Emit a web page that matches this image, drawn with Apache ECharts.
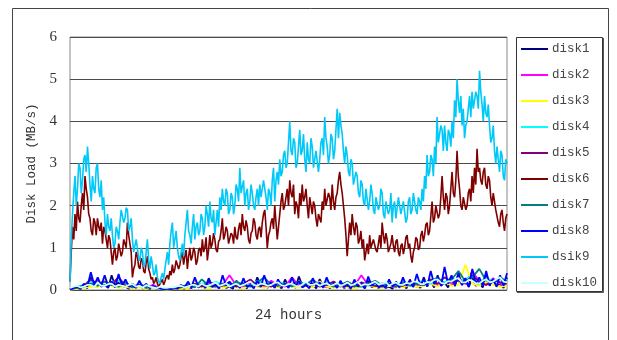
<!DOCTYPE html>
<html>
<head>
<meta charset="utf-8">
<script src="https://cdn.jsdelivr.net/npm/echarts@6/dist/echarts.min.js"></script>
<style>
  html, body { margin: 0; padding: 0; background: #fff; }
  #chart { width: 617px; height: 340px; }
</style>
</head>
<body>
<div id="chart"></div>
<script>
// Disk load over a 24-hour window, ten disks (MB/s).
const yTicks = [0, 1, 2, 3, 4, 5, 6];
const seriesNames = ['disk1', 'disk2', 'disk3', 'disk4', 'disk5', 'disk6', 'disk7', 'disk8', 'dsik9', 'disk10'];
const seriesColors = ['#000080', '#FF00FF', '#FFFF00', '#00FFFF', '#800080', '#800000', '#008080', '#0000FF', '#00C8F8', '#CCFFFF'];

const disk1 = [0.02,0.03,0.05,0.02,0.1,0.04,0.3,0.1,0.22,0.08,0.12,0.05,0.35,0.1,0.18,0.06,0.08,0.03,0.15,0.05,0.1,0.04,0.05,0.02,0.12,0.04,0.06,0.02,0.03,0.02,0.02,0.03,0.05,0.02,0.1,0.04,0.2,0.06,0.12,0.04,0.28,0.08,0.1,0.04,0.15,0.05,0.08,0.03,0.22,0.07,0.12,0.04,0.18,0.06,0.3,0.09,0.14,0.05,0.2,0.06,0.1,0.04,0.25,0.08,0.15,0.05,0.32,0.1,0.18,0.06,0.12,0.04,0.26,0.08,0.1,0.04,0.2,0.06,0.15,0.05,0.08,0.03,0.18,0.06,0.12,0.04,0.22,0.07,0.1,0.04,0.16,0.05,0.08,0.03,0.2,0.06,0.12,0.04,0.25,0.08,0.15,0.05,0.3,0.09,0.2,0.06,0.35,0.1,0.18,0.06,0.28,0.09,0.4,0.12,0.22,0.07,0.3,0.1,0.18,0.06,0.35,0.1,0.25,0.08,0.15,0.05,0.3];
const disk2 = [0.02,0.04,0.08,0.12,0.2,0.1,0.15,0.3,0.08,0.05,0.1,0.06,0.12,0.04,0.02,0.03,0.06,0.04,0.1,0.08,0.15,0.06,0.12,0.35,0.1,0.08,0.18,0.1,0.06,0.22,0.12,0.08,0.3,0.1,0.14,0.08,0.2,0.06,0.12,0.08,0.18,0.1,0.35,0.12,0.08,0.15,0.1,0.06,0.2,0.12,0.08,0.14,0.25,0.1,0.18,0.12,0.3,0.15,0.45,0.2,0.12,0.28,0.15,0.1];
const disk3 = [0.01,0.03,0.05,0.08,0.06,0.28,0.1,0.05,0.08,0.04,0.06,0.03,0.05,0.02,0.01,0.02,0.04,0.03,0.2,0.06,0.04,0.08,0.05,0.1,0.06,0.04,0.12,0.08,0.05,0.1,0.06,0.15,0.08,0.05,0.1,0.06,0.2,0.08,0.05,0.1,0.06,0.04,0.08,0.12,0.06,0.05,0.1,0.08,0.06,0.12,0.08,0.1,0.15,0.08,0.2,0.1,0.12,0.6,0.15,0.1,0.2,0.12,0.08,0.1];
const disk4 = [0.03,0.08,0.12,0.2,0.15,0.1,0.18,0.22,0.12,0.08,0.14,0.1,0.06,0.04,0.03,0.05,0.08,0.12,0.1,0.16,0.12,0.2,0.1,0.15,0.12,0.18,0.1,0.22,0.15,0.12,0.2,0.14,0.1,0.18,0.12,0.16,0.1,0.2,0.14,0.1,0.15,0.12,0.18,0.1,0.14,0.12,0.16,0.1,0.2,0.14,0.18,0.22,0.15,0.25,0.18,0.3,0.2,0.25,0.35,0.2,0.28,0.22,0.18,0.25];
const disk5 = [0.02,0.06,0.1,0.25,0.15,0.2,0.12,0.3,0.1,0.08,0.12,0.06,0.08,0.04,0.02,0.03,0.06,0.1,0.14,0.08,0.2,0.12,0.1,0.18,0.08,0.15,0.25,0.1,0.12,0.08,0.18,0.1,0.14,0.2,0.1,0.16,0.08,0.12,0.2,0.1,0.14,0.08,0.18,0.12,0.1,0.08,0.15,0.12,0.1,0.2,0.14,0.12,0.25,0.15,0.3,0.18,0.22,0.15,0.35,0.2,0.12,0.25,0.18,0.15];
const disk6 = [0.2,0.9,1.5,1.2,1.8,1.4,2.1,1.7,1.6,2.0,2.3,1.9,2.7,2.4,2.2,1.8,1.7,1.4,1.3,1.7,1.6,1.3,1.7,1.5,1.4,1.6,1.1,1.5,1.4,1.2,1.0,1.3,1.2,0.9,0.6,0.9,1.0,0.7,0.8,1.1,1.1,0.8,0.9,1.2,1.2,1.0,1.6,1.3,1.3,0.9,0.3,0.5,0.6,0.9,0.8,0.55,0.5,0.75,0.7,0.45,0.4,0.65,0.8,0.5,0.4,0.25,0.3,0.15,0.2,0.3,0.15,0.08,0.1,0.2,0.25,0.12,0.2,0.3,0.35,0.25,0.45,0.35,0.6,0.4,0.5,0.7,0.7,0.5,0.6,0.8,0.9,0.6,0.8,0.95,0.5,0.8,1.0,0.7,0.8,1.0,0.9,0.6,0.7,0.95,1.0,0.8,1.2,0.9,1.0,1.25,0.7,0.95,1.3,1.0,1.1,1.35,1.2,0.95,0.9,1.15,1.2,1.4,1.7,1.2,1.3,1.5,1.4,1.1,1.1,1.35,1.3,1.1,1.5,1.25,1.2,1.45,1.6,1.3,1.8,1.5,1.4,1.65,1.5,1.2,1.1,1.35,1.4,1.7,1.6,1.3,1.2,1.45,1.5,1.25,1.6,1.8,1.9,1.5,1.0,1.3,1.4,1.6,1.7,1.45,2.0,1.6,1.2,1.5,1.8,2.1,2.3,1.9,2.0,2.2,2.4,2.0,2.6,2.3,2.2,2.5,1.8,2.1,2.0,1.7,2.3,2.0,2.5,2.1,2.2,2.4,2.0,1.7,2.2,2.0,1.8,2.1,2.0,1.7,1.5,1.8,1.8,1.6,2.1,1.9,2.4,2.0,2.0,2.3,2.2,1.9,2.5,2.1,1.9,2.2,2.3,2.6,2.8,2.5,2.3,2.0,1.7,1.3,0.8,1.2,1.6,1.3,1.8,1.5,1.3,1.6,1.5,1.1,1.2,1.4,1.0,1.2,0.7,0.9,1.1,0.85,1.3,1.0,1.0,1.2,1.2,0.95,0.9,1.1,1.3,1.0,1.6,1.3,1.1,1.35,1.2,0.9,0.9,1.1,1.3,1.05,0.9,1.15,1.2,0.9,0.8,1.05,1.1,0.85,1.0,1.25,1.3,1.0,1.1,0.8,0.65,0.9,1.0,1.25,1.2,0.95,1.0,1.3,1.4,1.15,1.3,1.55,1.6,1.3,1.4,1.75,2.1,1.6,1.7,2.0,2.0,1.7,1.8,2.2,2.7,2.2,1.9,2.3,2.2,1.8,2.0,2.4,2.8,2.3,2.2,2.6,3.3,2.7,2.4,2.0,1.9,2.2,2.2,1.9,2.0,2.3,2.4,2.1,2.7,2.3,2.9,2.5,3.35,2.8,2.9,2.6,2.5,2.8,2.9,2.5,2.4,2.7,2.6,2.2,2.0,2.3,2.3,1.9,1.9,1.6,1.5,1.8,1.9,1.6,1.4,1.7,1.8];
const disk7 = [0.02,0.05,0.08,0.15,0.1,0.2,0.12,0.08,0.18,0.06,0.1,0.05,0.08,0.03,0.02,0.04,0.08,0.12,0.06,0.25,0.1,0.08,0.15,0.1,0.2,0.12,0.08,0.18,0.3,0.12,0.1,0.15,0.08,0.2,0.12,0.25,0.1,0.15,0.08,0.12,0.2,0.1,0.08,0.15,0.22,0.1,0.12,0.08,0.18,0.1,0.15,0.12,0.2,0.3,0.15,0.25,0.45,0.2,0.3,0.5,0.22,0.18,0.3,0.2];
const disk8 = [0.02,0.04,0.08,0.03,0.15,0.08,0.42,0.12,0.3,0.1,0.35,0.08,0.2,0.06,0.38,0.1,0.25,0.08,0.12,0.05,0.22,0.06,0.15,0.04,0.1,0.03,0.05,0.02,0.04,0.02,0.06,0.03,0.12,0.05,0.2,0.06,0.3,0.08,0.15,0.05,0.25,0.07,0.12,0.04,0.35,0.1,0.2,0.06,0.15,0.05,0.28,0.08,0.12,0.04,0.22,0.07,0.35,0.1,0.18,0.05,0.25,0.08,0.15,0.05,0.3,0.09,0.2,0.06,0.12,0.04,0.28,0.08,0.18,0.05,0.3,0.1,0.15,0.05,0.22,0.07,0.12,0.04,0.25,0.08,0.15,0.05,0.32,0.1,0.2,0.06,0.12,0.05,0.25,0.08,0.18,0.06,0.3,0.1,0.2,0.07,0.38,0.12,0.25,0.08,0.45,0.14,0.3,0.1,0.55,0.15,0.35,0.1,0.4,0.12,0.28,0.08,0.5,0.15,0.3,0.1,0.45,0.12,0.25,0.08,0.35,0.1,0.4];
const dsik9 = [0.2,1.2,1.8,2.3,2.7,2.0,2.4,3.0,2.9,2.3,2.6,3.1,3.2,2.8,3.4,3.0,2.5,2.1,2.7,2.4,2.3,2.9,3.0,2.4,2.2,2.6,1.9,2.2,1.6,1.3,1.8,1.5,1.4,1.7,1.3,1.0,1.1,1.5,1.4,1.2,1.6,1.9,1.9,1.6,1.7,1.95,1.9,1.4,1.5,1.7,1.2,0.9,0.9,1.2,1.0,0.75,0.7,1.0,0.9,0.55,0.6,0.9,1.2,0.7,0.5,0.8,0.6,0.35,0.4,0.6,0.3,0.2,0.15,0.3,0.4,0.25,0.5,0.7,0.9,0.6,1.1,1.4,1.6,1.0,1.2,1.4,1.0,0.8,0.7,0.9,1.1,0.8,1.3,1.6,1.9,1.4,1.3,1.1,1.5,1.8,1.2,1.5,1.6,1.3,1.4,1.8,1.7,1.3,1.5,2.0,1.8,1.5,2.1,1.7,1.6,1.9,1.3,1.6,1.9,1.5,2.2,1.9,2.4,2.1,2.0,2.4,2.3,1.8,1.9,2.3,2.2,1.8,2.0,2.5,2.4,2.1,2.9,2.3,2.3,2.6,2.0,2.3,2.4,1.9,2.1,2.5,2.3,2.0,1.9,2.2,2.4,2.0,2.5,2.2,2.2,2.6,2.6,2.2,1.9,2.4,2.3,2.0,2.6,2.9,2.1,2.6,2.8,2.5,3.1,2.7,2.8,3.2,3.3,2.9,3.0,3.5,4.0,3.3,3.2,3.6,3.5,2.9,3.0,3.4,3.8,3.2,3.3,3.7,3.1,2.8,3.5,3.1,3.0,3.6,3.4,2.9,2.9,3.3,3.3,2.8,3.1,3.5,3.6,3.2,4.1,3.6,3.4,3.0,3.2,3.7,3.6,3.1,3.3,3.8,4.3,3.6,4.2,3.9,3.7,3.3,3.0,3.4,3.2,2.8,2.7,3.1,3.0,2.5,2.5,2.8,2.7,2.3,2.2,2.6,2.5,2.1,2.0,2.4,2.4,1.9,2.1,2.5,2.3,1.9,1.8,2.2,2.2,1.9,2.0,2.4,2.3,1.8,1.7,2.1,2.1,1.8,1.9,2.3,1.6,2.0,2.1,1.7,1.7,2.2,2.2,1.8,1.8,2.1,2.1,1.6,1.7,2.1,2.2,1.8,1.9,2.3,2.3,1.9,1.8,2.2,2.1,1.9,2.4,2.1,2.7,2.4,3.2,2.7,2.8,3.2,3.1,2.7,3.4,3.0,4.1,3.5,3.5,3.9,3.8,3.3,3.9,3.5,3.3,3.8,3.7,3.4,4.0,3.6,4.5,4.1,5.0,4.5,4.2,4.6,3.9,4.3,3.6,3.9,4.0,4.3,4.6,4.1,4.7,4.3,4.3,4.7,4.6,4.3,5.2,4.7,4.4,4.0,4.6,4.2,4.1,4.4,3.9,3.5,3.6,3.9,3.3,3.0,3.4,3.1,2.8,3.3,3.2,2.7,2.6,3.1,3.0];
const disk10 = [0.05,0.08,0.1,0.06,0.08,0.12,0.12,0.07,0.18,0.1,0.1,0.14,0.15,0.08,0.12,0.1,0.08,0.12,0.14,0.08,0.1,0.06,0.12,0.08,0.06,0.04,0.08,0.05,0.05,0.07,0.06,0.09,0.1,0.06,0.08,0.12,0.12,0.08,0.15,0.1,0.1,0.14,0.18,0.1,0.12,0.16,0.08,0.12,0.15,0.09,0.12,0.16,0.2,0.12,0.1,0.15,0.14,0.1,0.12,0.17,0.18,0.11,0.1,0.14,0.15,0.1,0.08,0.13,0.2,0.12,0.12,0.16,0.1,0.14,0.16,0.1,0.12,0.17,0.1,0.13,0.18,0.11,0.14,0.19,0.1,0.14,0.12,0.16,0.2,0.13,0.15,0.2,0.1,0.15,0.18,0.12,0.12,0.17,0.15,0.2,0.2,0.14,0.14,0.19,0.18,0.24,0.25,0.17,0.15,0.21,0.2,0.26,0.28,0.18,0.18,0.24,0.22,0.16,0.15,0.22,0.25,0.18,0.2,0.26,0.3,0.2,0.18];

const seriesValues = [disk1, disk2, disk3, disk4, disk5, disk6, disk7, disk8, dsik9, disk10];
const HOURS = 24;

// Each series is sampled evenly across the 24-hour window.
function toPoints(values) {
  const step = HOURS / (values.length - 1);
  return values.map((v, i) => [i * step, v]);
}

const series = seriesNames.map((name, k) => ({
  name: name,
  type: 'line',
  data: toPoints(seriesValues[k]),
  showSymbol: false,
  symbol: 'none',
  smooth: false,
  lineStyle: { color: seriesColors[k], width: (name === 'disk6' || name === 'dsik9') ? 1.6 : 1.8 },
  itemStyle: { color: seriesColors[k] },
  emphasis: { disabled: true }
}));

const chart = echarts.init(document.getElementById('chart'), null, { renderer: 'canvas' });
chart.setOption({
  animation: false,
  backgroundColor: '#ffffff',
  grid: {
    left: 70, top: 37, right: 110, bottom: 50,
    show: true, borderColor: '#8a8a8a', borderWidth: 1, backgroundColor: '#ffffff'
  },
  xAxis: {
    type: 'value', min: 0, max: HOURS,
    name: '24 hours', nameLocation: 'middle', nameGap: 18,
    nameTextStyle: { fontFamily: 'Liberation Mono', fontSize: 14, color: '#333' },
    axisLine: { show: false }, axisTick: { show: false },
    axisLabel: { show: false }, splitLine: { show: false }
  },
  yAxis: {
    type: 'value', min: yTicks[0], max: yTicks[yTicks.length - 1], interval: 1,
    name: 'Disk Load (MB/s)', nameLocation: 'middle', nameGap: 30, nameRotate: 90,
    nameTextStyle: { fontFamily: 'Liberation Mono', fontSize: 12.5, color: '#333' },
    axisLine: { show: false }, axisTick: { show: false },
    axisLabel: { fontFamily: 'Liberation Serif', fontSize: 15, color: '#333', margin: 13 },
    splitLine: { show: true, lineStyle: { color: '#4a4a4a', width: 1 } }
  },
  legend: {
    data: seriesNames,
    orient: 'vertical',
    left: 521, top: 42,
    icon: 'rect', itemWidth: 27, itemHeight: 2, itemGap: 12,
    padding: 0,
    textStyle: { fontFamily: 'Liberation Mono', fontSize: 12.5, color: '#444', lineHeight: 14, padding: [0, 0, 0, -1] },
    selectedMode: false
  },
  graphic: [
    { type: 'rect', shape: { x: 12.5, y: 8.5, width: 596, height: 340 }, style: { fill: 'none', stroke: '#444', lineWidth: 1 }, silent: true, z: -1 },
    { type: 'rect', shape: { x: 516.5, y: 37.5, width: 86, height: 254 }, style: { fill: 'none', stroke: '#333', lineWidth: 1 }, silent: true },
    { type: 'polyline', shape: { points: [[517, 292.5], [603.5, 292.5], [603.5, 38]] }, style: { fill: 'none', stroke: '#555', lineWidth: 1 }, silent: true }
  ],
  series: series
});
</script>
</body>
</html>
